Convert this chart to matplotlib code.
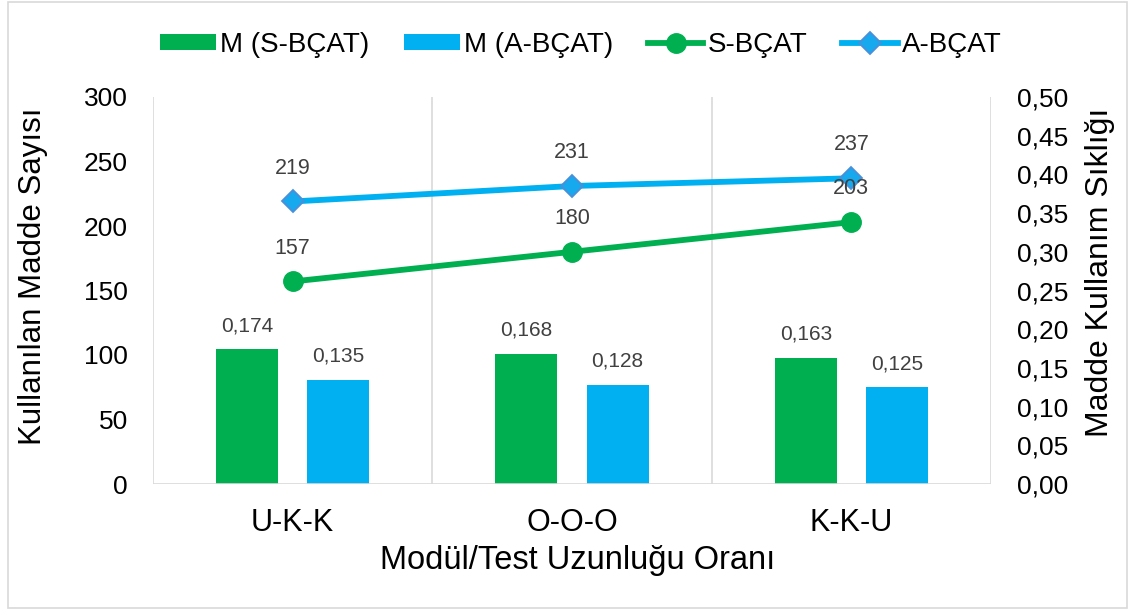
import numpy as np
import matplotlib.pyplot as plt
from matplotlib.patches import Rectangle

plt.rcParams['font.family'] = ['Liberation Sans', 'DejaVu Sans']

kategoriler = ['U-K-K', 'O-O-O', 'K-K-U']
m_s = [0.174, 0.168, 0.163]
m_a = [0.135, 0.128, 0.125]
s_bcat = [157, 180, 203]
a_bcat = [219, 231, 237]

yesil = '#00B050'
mavi = '#00B0F0'
gri = '#D9D9D9'
etiket_renk = '#404040'

W, H = 1135, 610
fig = plt.figure(figsize=(W/100, H/100), dpi=100)
ax = fig.add_axes([153/W, 1-484/H, (991-153)/W, (484-97)/H])
ax2 = ax.twinx()

x = np.arange(len(kategoriler))
w = 0.222
b1 = ax2.bar(x - 0.163, m_s, w, color=yesil, label='M (S-BÇAT)', zorder=2)
b2 = ax2.bar(x + 0.163, m_a, w, color=mavi, label='M (A-BÇAT)', zorder=2)
for rects, vals in [(b1, m_s), (b2, m_a)]:
    for r, v in zip(rects, vals):
        ax2.annotate(str(v).replace('.', ','), (r.get_x() + r.get_width()/2, v),
                     xytext=(0, 17), textcoords='offset points', ha='center', va='center',
                     fontsize=15, color=etiket_renk)

# cizgiler sol eksende ve cubuklarin onunde
ax.set_zorder(ax2.get_zorder() + 1)
ax.patch.set_visible(False)
l1, = ax.plot(x, s_bcat, color=yesil, lw=4.2, marker='o', ms=14, label='S-BÇAT')
l2, = ax.plot(x, a_bcat, color=mavi, lw=4.2, marker='D', ms=11.5, mfc='#17A9EE',
              mec='#4A8FD8', mew=1.3, label='A-BÇAT')
for vals in [s_bcat, a_bcat]:
    for xi, v in zip(x, vals):
        ax.annotate(str(v), (xi, v), xytext=(0, 24), textcoords='offset points',
                    ha='center', va='center', fontsize=15.5, color=etiket_renk)

ax.set_xlim(-0.5, 2.5)
ax.set_ylim(0, 300)
ax2.set_ylim(0, 0.5)
ax.set_yticks(np.arange(0, 301, 50))
sag_ticks = np.arange(0, 0.51, 0.05)
ax2.set_yticks(sag_ticks)
ax2.set_yticklabels([f'{t:.2f}'.replace('.', ',') for t in sag_ticks])
ax.set_xticks(x)
ax.set_xticklabels(kategoriler)
for a in (ax, ax2):
    a.tick_params(axis='both', length=0, labelsize=19, colors='black')
    for s in a.spines.values():
        s.set_visible(False)
ax.tick_params(axis='x', pad=17, labelsize=22)
ax.tick_params(axis='y', pad=18)
ax2.tick_params(axis='y', pad=19)

for xv in [-0.5, 0.5, 1.5, 2.5]:
    ax.axvline(xv, color=gri, lw=1.2, zorder=0)
ax.axhline(0, color=gri, lw=1.2, zorder=0)

fig.text(33/W, 1-276/H, 'Kullanılan Madde Sayısı', rotation=90, fontsize=22.5,
         ha='center', va='center')
fig.text(1100/W, 1-272/H, 'Madde Kullanım Sıklığı', rotation=90, fontsize=23,
         ha='center', va='center')
fig.text(578/W, 1-561/H, 'Modül/Test Uzunluğu Oranı', fontsize=23.5,
         ha='center', va='center')

fig.legend(handles=[b1, b2, l1, l2], loc='center', bbox_to_anchor=(581/W, 1-45/H), ncol=4,
           frameon=False, fontsize=20, handlelength=2.0, handleheight=0.5,
           handletextpad=0.15, columnspacing=1.25, borderpad=0)

fig.patches.append(Rectangle((8/W, 2/H), 1-16/W, 1-4/H, transform=fig.transFigure,
                             fill=False, edgecolor=gri, lw=1.2))

fig.savefig('out.png', dpi=100)
